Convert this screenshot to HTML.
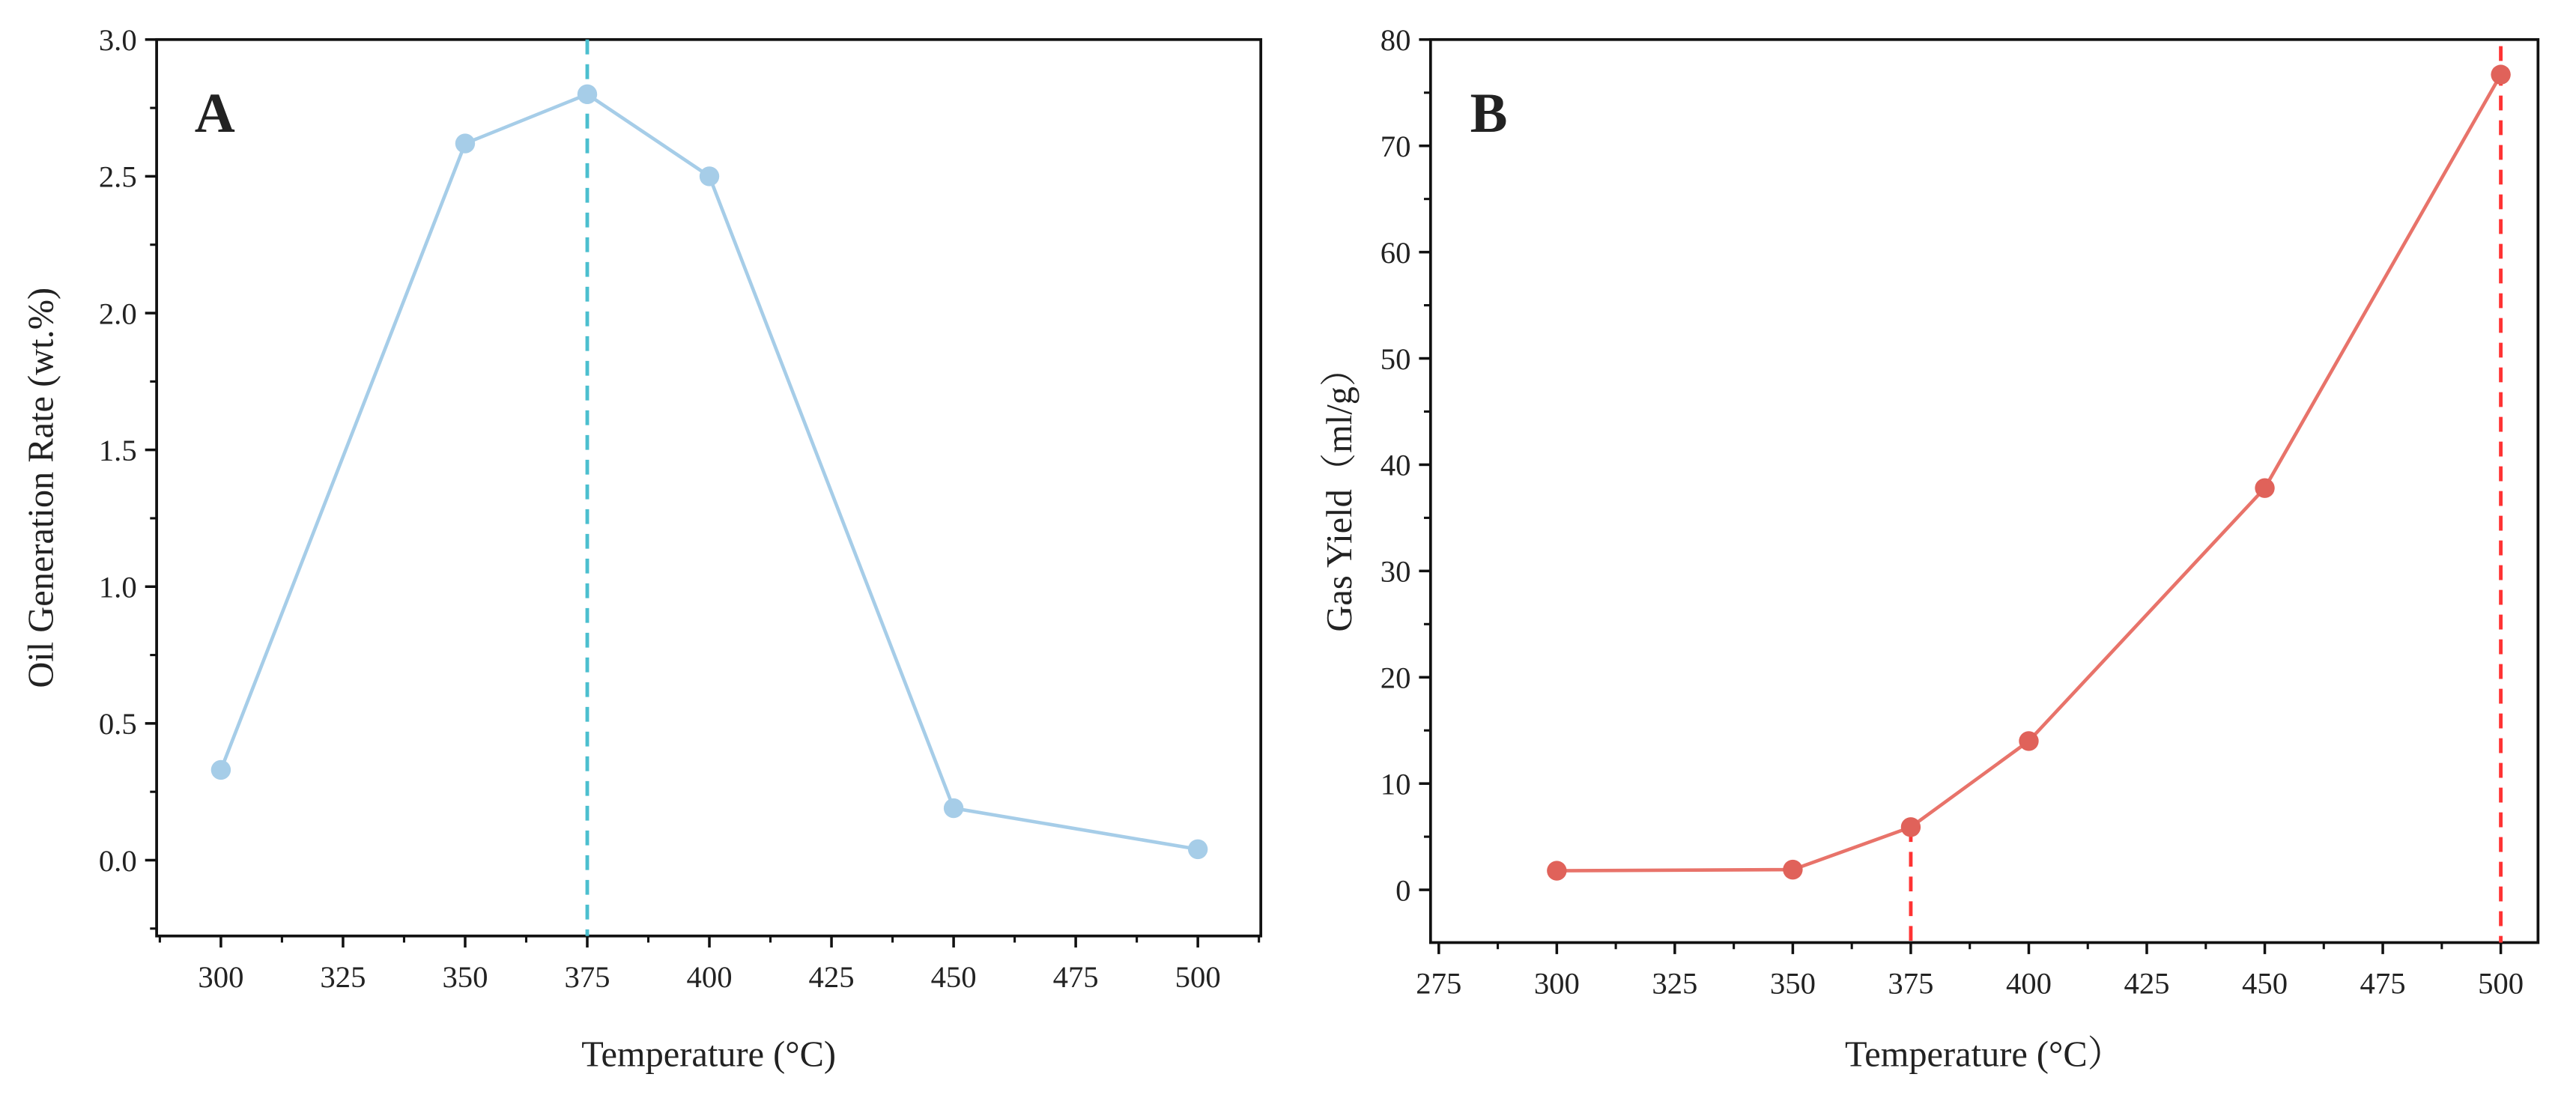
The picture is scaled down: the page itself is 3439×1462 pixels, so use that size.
<!DOCTYPE html>
<html><head><meta charset="utf-8"><style>
html,body{margin:0;padding:0;background:#fff}
svg{display:block}
text{font-family:"Liberation Serif","Noto Serif CJK SC",serif;fill:#222}
</style></head><body>
<svg id="svg" width="3439" height="1462" viewBox="0 0 1563 664.5" xmlns="http://www.w3.org/2000/svg"></svg>
<script>
const tempsA = [300, 350, 375, 400, 450, 500];
const oilRate = [0.33, 2.62, 2.80, 2.50, 0.19, 0.04];
const xTicksA = [300, 325, 350, 375, 400, 425, 450, 475, 500];
const yTicksA = [0.0, 0.5, 1.0, 1.5, 2.0, 2.5, 3.0];
const tempsB = [300, 350, 375, 400, 450, 500];
const gasYield = [1.8, 1.9, 5.9, 14.0, 37.8, 76.7];
const xTicksB = [275, 300, 325, 350, 375, 400, 425, 450, 475, 500];
const yTicksB = [0, 10, 20, 30, 40, 50, 60, 70, 80];
const peakA = [375];
const markB = [375, 500];

const NS = "http://www.w3.org/2000/svg";
const svg = document.getElementById('svg');
function mk(tag, attrs, parent){const e=document.createElementNS(NS,tag);for(const k in attrs)e.setAttribute(k,attrs[k]);(parent||svg).appendChild(e);return e;}

function panel(cfg){
  const g = mk('g',{});
  
  
  const {L,R,T,B} = cfg;
  const sx = v => cfg.x0px + (v - cfg.x0) * cfg.xs;
  const sy = v => cfg.y0px - (v - cfg.y0) * cfg.ys;
  const frame = mk('rect',{x:L,y:T,width:R-L,height:B-T,fill:'none',stroke:'#111','stroke-width':1.7},g);
  
  
  cfg.xTicks.forEach((t,i)=>{
    const x = sx(t);
    mk('line',{x1:x,y1:B,x2:x,y2:B+7,stroke:'#111','stroke-width':1.6},g);
    const tx = mk('text',{x:x,y:B+31,'text-anchor':'middle','font-size':18.5},g);
    tx.textContent = t;
    
    
    const m = t + cfg.xStep/2;
    if (sx(m) < R) mk('line',{x1:sx(m),y1:B,x2:sx(m),y2:B+4,stroke:'#111','stroke-width':1.4},g);
    const m2 = t - cfg.xStep/2;
    if (i===0 && sx(m2) > L) mk('line',{x1:sx(m2),y1:B,x2:sx(m2),y2:B+4,stroke:'#111','stroke-width':1.4},g);
  });
  cfg.yTicks.forEach((t,i)=>{
    const y = sy(t);
    mk('line',{x1:L-7,y1:y,x2:L,y2:y,stroke:'#111','stroke-width':1.6},g);
    const tx = mk('text',{x:L-12,y:y+6.5,'text-anchor':'end','font-size':18.5},g);
    tx.textContent = cfg.yFmt(t);
    
    
    const m = t + cfg.yStep/2;
    if (sy(m) > T) mk('line',{x1:L-4,y1:sy(m),x2:L,y2:sy(m),stroke:'#111','stroke-width':1.4},g);
    const m2 = t - cfg.yStep/2;
    if (i===0 && sy(m2) < B) mk('line',{x1:L-4,y1:sy(m2),x2:L,y2:sy(m2),stroke:'#111','stroke-width':1.4},g);
  });
  cfg.dashes.forEach(d=>{
    const ln = mk('line',{x1:sx(d.x),y1:d.top(sy),x2:sx(d.x),y2:B,stroke:cfg.dashColor,'stroke-width':2.2,'stroke-dasharray':'9,6'},g);
    
    
  });
  const pts = cfg.xs_.map((v,i)=>sx(v)+','+sy(cfg.ys_[i])).join(' ');
  const pl = mk('polyline',{points:pts,fill:'none',stroke:cfg.lineColor,'stroke-width':2.1},g);
  
  
  cfg.xs_.forEach((v,i)=>{
    const c = mk('circle',{cx:sx(v),cy:sy(cfg.ys_[i]),r:6,fill:cfg.ptColor},g);
    
    
  });
  const lab = mk('text',{x:cfg.labX,y:80,'font-size':34,'font-weight':'bold',fill:'#000'},g);
  lab.textContent = cfg.label;
  
  
  const xt = mk('text',{x:(L+R)/2,y:647,'text-anchor':'middle','font-size':22},g);
  xt.textContent = cfg.xTitle;
  
  
  const yt = mk('text',{x:0,y:0,'text-anchor':'middle','font-size':22,transform:`translate(${cfg.yTitleX},${(T+B)/2}) rotate(-90)`},g);
  yt.textContent = cfg.yTitle;
  
  
}

panel({name:'panel-a-oil-generation',L:95,R:765,T:24,B:568,x0:300,x0px:134,xs:74.1/25,y0:0,y0px:522,ys:83/0.5,
  xTicks:xTicksA,yTicks:yTicksA,xStep:25,yStep:0.5,yFmt:t=>t.toFixed(1),
  xs_:tempsA,ys_:oilRate,lineColor:'#a6cde8',ptColor:'#a6cde8',dashColor:'#4bbfcf',
  dashes:peakA.map(x=>({x:x,top:()=>24})),
  label:'A',labX:118,xTitle:'Temperature (°C)',yTitle:'Oil Generation Rate (wt.%)',yTitleX:32});

panel({name:'panel-b-gas-yield',L:868,R:1540,T:24,B:572,x0:275,x0px:873,xs:71.6/25,y0:0,y0px:540,ys:64.5/10,
  xTicks:xTicksB,yTicks:yTicksB,xStep:25,yStep:10,yFmt:t=>String(t),
  xs_:tempsB,ys_:gasYield,lineColor:'#e8736a',ptColor:'#e0625a',dashColor:'#ff3333',
  dashes:markB.map(x=>({x:x,top:(sy)=> x===500 ? 28 : sy(gasYield[tempsB.indexOf(x)])})),
  label:'B',labX:892,xTitle:'Temperature (°C）',yTitle:'Gas Yield（ml/g）',yTitleX:820});
</script>
</body></html>
